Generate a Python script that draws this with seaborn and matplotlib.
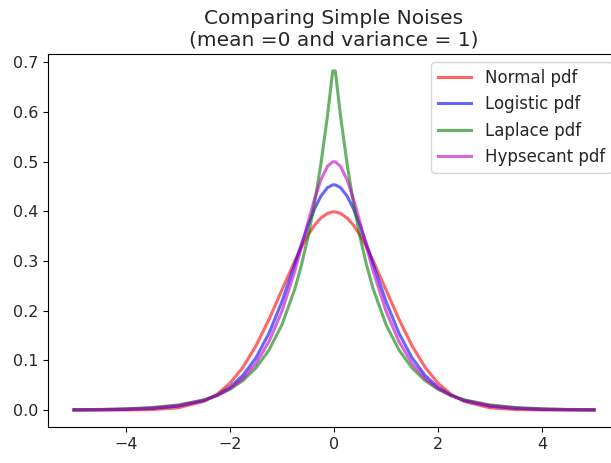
import numpy as np
import pandas as pd
import matplotlib
matplotlib.use("Agg")
import matplotlib.pyplot as plt
import seaborn as sns

# =========================
# data (right half, x >= 0; curves are symmetric)
# =========================
x_half = [0.025, 0.125, 0.25, 0.375, 0.5, 0.625, 0.75, 1.0, 1.25, 1.5,
          1.75, 2.0, 2.25, 2.5, 3.0, 3.5, 4.0, 4.5, 5.0]
normal_half = [0.3988, 0.3958, 0.3867, 0.3719, 0.3521, 0.3282, 0.3011, 0.2420, 0.1826, 0.1295,
               0.0863, 0.0540, 0.0317, 0.0175, 0.0044, 0.0009, 0.0001, 0.0000, 0.0000]
logistic_half = [0.4532, 0.4477, 0.4309, 0.4048, 0.3716, 0.3342, 0.2948, 0.2186, 0.1544, 0.1052,
                 0.0699, 0.0458, 0.0296, 0.0190, 0.0078, 0.0032, 0.0013, 0.0005, 0.0002]
laplace_half = [0.6825, 0.5925, 0.4965, 0.4161, 0.3487, 0.2922, 0.2448, 0.1719, 0.1207, 0.0848,
                0.0595, 0.0418, 0.0293, 0.0206, 0.0102, 0.0050, 0.0025, 0.0012, 0.0006]
hypsecant_half = [0.4996, 0.4905, 0.4638, 0.4242, 0.3775, 0.3285, 0.2812, 0.1993, 0.1377, 0.0939,
                  0.0637, 0.0431, 0.0292, 0.0197, 0.0090, 0.0041, 0.0019, 0.0009, 0.0004]

labels = ['Normal pdf', 'Logistic pdf', 'Laplace pdf', 'Hypsecant pdf']
colors = ['r', 'b', 'g', 'm']


def mirror(xs, ys):
    xs = np.asarray(xs)
    ys = np.asarray(ys)
    return np.concatenate([-xs[::-1], xs]), np.concatenate([ys[::-1], ys])


# =========================
# plot
# =========================
plt.rcParams['xtick.labelsize'] = 11.5
plt.rcParams['ytick.labelsize'] = 11.5
plt.rcParams['text.color'] = '#262626'
plt.rcParams['xtick.labelcolor'] = '#262626'
plt.rcParams['ytick.labelcolor'] = '#262626'

fig, ax = plt.subplots(figsize=(6.11, 4.63), dpi=100)
# the reference is cut off on the right, so the axes run past the figure edge
fig.subplots_adjust(left=0.0786, right=1.0147, top=0.8834, bottom=0.0778)

for name, ys, c in zip(labels, [normal_half, logistic_half, laplace_half, hypsecant_half], colors):
    xx, yy = mirror(x_half, ys)
    df = pd.DataFrame({'x': xx, 'y': yy})
    sns.lineplot(data=df, x='x', y='y', color=c, lw=2.2, alpha=0.6,
                 label=name, ax=ax, sort=False)

ax.set_xlabel('')
ax.set_ylabel('')
ax.set_title('Comparing Simple Noises\n(mean =0 and variance = 1)', fontsize=14.5)
ax.legend(loc='upper right', fontsize=12, borderaxespad=0.5)

plt.savefig("out.png")
plt.close()
